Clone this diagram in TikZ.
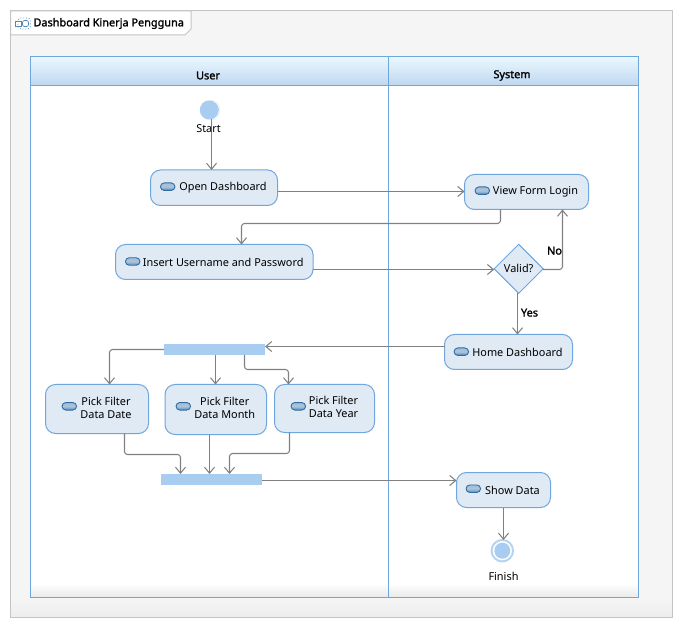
\documentclass[tikz,border=0pt]{standalone}
\usepackage{fontspec}
\setmainfont{Noto Sans}
\newfontfamily\heavyface[FakeBold=1.6]{Noto Sans}
\usetikzlibrary{arrows.meta,shapes.geometric,shapes.misc,positioning}
\definecolor{lineblue}{HTML}{6FA6DE}
\definecolor{fillblue}{HTML}{E0EAF5}
\definecolor{barblue}{HTML}{A9CDF0}
\definecolor{conn}{HTML}{808080}
\definecolor{framegray}{HTML}{C4C4C4}
\definecolor{pagegray}{HTML}{F5F5F5}
\definecolor{icondark}{HTML}{2F6CA3}
\newcommand{\acttext}[1]{\hspace{18pt}\raisebox{-1pt}{#1}}
\newcommand{\twolines}[2]{\hspace{18pt}\raisebox{-1pt}{\begin{tabular}{@{}c@{}}#1\\#2\end{tabular}}}
\tikzset{
  every node/.style={font=\fontsize{10.9pt}{13pt}\selectfont, inner sep=0pt, outer sep=0pt, text=black},
  action/.style={draw=lineblue, fill=fillblue, line width=1pt, rounded corners=10pt, rectangle, align=center},
  actionicon/.style={draw=icondark, line width=.9pt, rounded rectangle, minimum width=14.5pt, minimum height=7.5pt,
     top color=icondark!45!white, bottom color=icondark!80!white, middle color=fillblue!70!icondark},
  decision/.style={draw=lineblue, fill=fillblue, line width=1pt, diamond, aspect=1, minimum width=49pt, minimum height=49pt},
  syncbar/.style={fill=barblue, rectangle, minimum width=101pt, minimum height=11pt},
  flow/.style={draw=conn, line width=1.05pt, rounded corners=3pt, -{Straight Barb[length=6pt,width=10pt,line width=1.05pt]}},
  lane/.style={draw=lineblue, line width=1pt},
  head/.style={font=\fontsize{10.9pt}{13pt}\heavyface},
}
\begin{document}
\begin{tikzpicture}[x=1pt,y=-1pt]
\useasboundingbox (0,0) rectangle (683,628);
% outer frame
\fill[white] (0,0) rectangle (683,628);
\fill[pagegray] (10.5,11) rectangle (672.5,600);
\shade[top color=pagegray,bottom color=black!7] (10.5,597) rectangle (672.5,617);
\draw[framegray,line width=1pt] (10.5,11) rectangle (672.5,617);
% tab
\draw[framegray,line width=1pt,fill=white] (10.5,11) -- (191,11) -- (191,29) -- (185,35) -- (10.5,35) -- cycle;
\node[head,anchor=west] (title) at (33.5,23.5) {Dashboard Kinerja Pengguna};
% tab icon
\draw[icondark!80!white,line width=.7pt] (15.5,21) rectangle (21,26);
\draw[icondark!80!white,line width=.7pt,rounded corners=2pt] (22.5,20.5) rectangle (28.5,26.5);
\draw[icondark!80!white,line width=.8pt,dotted,rounded corners=3pt] (18,18) rectangle (30.5,29);
% lanes
\fill[white] (30.5,56.5) rectangle (638,597);
\shade[top color=white,bottom color=black!8] (30.5,583) rectangle (638,597);
\shade[top color=blue!30!cyan!8!white,bottom color=lineblue!45!white] (30.5,56.5) rectangle (638,85.5);
\draw[lane] (30.5,56.5) rectangle (638,597);
\draw[lane] (30.5,85.5) -- (638,85.5);
\draw[lane] (388.5,56.5) -- (388.5,597);
\node[head] (user) at (208,75.5) {User};
\node[head] (system) at (512,75.5) {System};
% start and finish
\fill[barblue!60!white] (210,110) circle (10);
\fill[white] (209.8,110) circle (9.8);
\node[circle,fill=barblue,minimum size=19pt] (start) at (209.3,110) {};
\node[circle,draw=barblue!85!white,line width=2pt,fill=white,minimum size=21.5pt] (finish) at (502.3,550.7) {};
\node[circle,fill=barblue,minimum size=16pt] (finishdot) at (502.3,550.7) {};
% actions
\node[action,minimum width=127pt,minimum height=35.5pt] (open) at (214,187.75) {\acttext{Open Dashboard}};
\node[action,minimum width=124pt,minimum height=35pt] (view) at (526.5,192) {\acttext{View Form Login}};
\node[action,minimum width=197.5pt,minimum height=35pt] (insert) at (214.25,262) {\acttext{Insert Username and Password}};
\node[decision] (valid) at (518.7,268.8) {\raisebox{-1pt}{Valid?}};
\node[action,minimum width=128pt,minimum height=35pt] (home) at (508.5,352) {\acttext{Home Dashboard}};
\node[syncbar] (forkbar) at (214.5,349.5) {};
\node[action,minimum width=103pt,minimum height=49pt] (date) at (97,409) {\twolines{Pick Filter}{Data Date}};
\node[action,minimum width=101.5pt,minimum height=50pt] (month) at (215.75,409.5) {\twolines{Pick Filter}{Data Month}};
\node[action,minimum width=100pt,minimum height=48pt] (year) at (324.5,408.5) {\twolines{Pick Filter}{Data Year}};
\node[syncbar] (joinbar) at (211.5,479.5) {};
\node[action,minimum width=94pt,minimum height=35pt] (show) at (503.5,490) {\acttext{Show Data}};
% action icons
\node[actionicon] (iopen) at (167.7,186.7) {};
\node[actionicon] (iview) at (482.3,190.7) {};
\node[actionicon] (iinsert) at (132.7,261.5) {};
\node[actionicon] (ihome) at (461.3,351.7) {};
\node[actionicon] (idate) at (69.3,406.3) {};
\node[actionicon] (imonth) at (183.3,406.3) {};
\node[actionicon] (iyear) at (298.3,406.3) {};
\node[actionicon] (ishow) at (473.3,488.7) {};
% connectors
\draw[flow] (start.south -| 211.5,0) -- (open.north -| 211.5,0);
\draw[flow] (open.east |- 0,191.5) -- (view.west |- 0,191.5);
\draw[flow] (view.south -| 500.5,0) -- (500.5,223.5) -- (241.5,223.5) -- (insert.north -| 241.5,0);
\draw[flow] (insert.east |- 0,269.5) -- (valid.west |- 0,269.5);
\draw[flow] (valid.east |- 0,269.5) -- (562.5,269.5) -- (view.south -| 562.5,0);
\draw[flow] (valid.south -| 517.5,0) -- (home.north -| 517.5,0);
\draw[flow] (home.west |- 0,346.5) -- (forkbar.east |- 0,346.5);
\draw[flow] (forkbar.west |- 0,349.5) -- (109.5,349.5) -- (date.north -| 109.5,0);
\draw[flow] (forkbar.south -| 215.5,0) -- (month.north -| 215.5,0);
\draw[flow] (forkbar.south -| 244.5,0) -- (244.5,369.5) -- (288.5,369.5) -- (year.north -| 288.5,0);
\draw[flow] (date.south -| 124.5,0) -- (124.5,454.5) -- (180.5,454.5) -- (joinbar.north -| 180.5,0);
\draw[flow] (month.south -| 209.5,0) -- (joinbar.north -| 209.5,0);
\draw[flow] (year.south -| 289.5,0) -- (289.5,453.5) -- (229.5,453.5) -- (joinbar.north -| 229.5,0);
\draw[flow] (joinbar.east |- 0,480.5) -- (show.west |- 0,480.5);
\draw[flow] (show.south -| 503.5,0) -- (finish.north -| 503.5,0);
% labels
\node (startlabel) at (208.5,128.7) {Start};
\node (finishlabel) at (503.5,576.7) {Finish};
\node[head] (yeslabel) at (529.5,312.7) {Yes};
\node[head] (nolabel) at (554.5,250.7) {No};
\end{tikzpicture}
\end{document}
